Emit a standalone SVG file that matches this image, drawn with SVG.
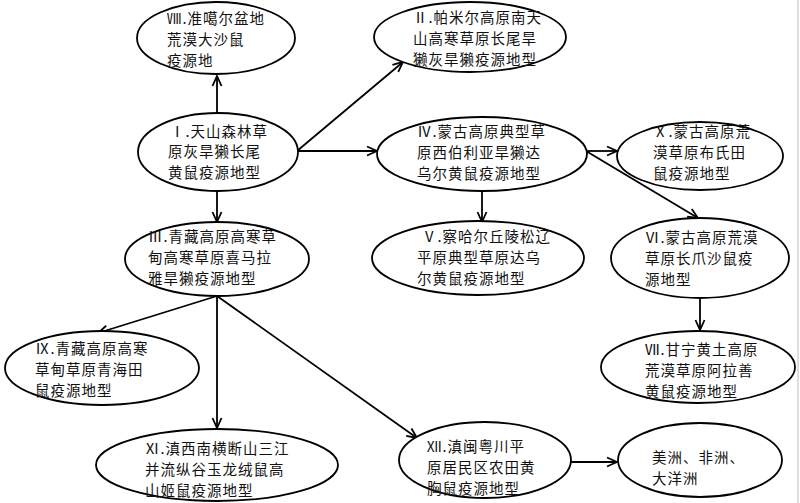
<svg xmlns="http://www.w3.org/2000/svg" width="800" height="503" viewBox="0 0 800 503">
<defs>
<marker id="arr" viewBox="0 0 12 12" refX="11" refY="6" markerWidth="12" markerHeight="12" markerUnits="userSpaceOnUse" orient="auto">
<path d="M1,1.5 L11,6 L1,10.5" fill="none" stroke="#000" stroke-width="1.8"/>
</marker>
<style>
ellipse{fill:#fff;stroke:#000;stroke-width:1.8}
text{font-family:"Noto Sans CJK SC","Noto Sans",sans-serif;font-size:14.5px;letter-spacing:1px;fill:#111}
#connectors line{stroke:#000;stroke-width:1.8;marker-end:url(#arr)}
</style>
</defs>
<rect width="800" height="503" fill="#fff"/>
<line x1="798" y1="0" x2="798" y2="503" stroke="#bbb" stroke-width="1"/>
<g id="connectors">
<line x1="217" y1="113" x2="217" y2="76"/>
<line x1="297" y1="151" x2="403" y2="62"/>
<line x1="297" y1="151" x2="377" y2="151"/>
<line x1="217" y1="191" x2="217" y2="222"/>
<line x1="586" y1="151" x2="617" y2="151"/>
<line x1="586" y1="151" x2="698" y2="218"/>
<line x1="482" y1="190" x2="482" y2="222"/>
<line x1="700" y1="298" x2="700" y2="330"/>
<line x1="217" y1="296" x2="98" y2="333"/>
<line x1="217" y1="296" x2="217" y2="428"/>
<line x1="217" y1="296" x2="417" y2="438"/>
<line x1="570" y1="462" x2="617" y2="462"/>
</g>
<g id="n8"><ellipse cx="216" cy="38" rx="79" ry="36"/>
<text x="167" y="24">Ⅷ.准噶尔盆地</text><text x="167" y="45">荒漠大沙鼠</text><text x="167" y="66">疫源地</text></g>
<g id="n2"><ellipse cx="470" cy="37" rx="96" ry="35"/>
<text x="413" y="23">Ⅱ.帕米尔高原南天</text><text x="413" y="44">山高寒草原长尾旱</text><text x="413" y="65">獭灰旱獭疫源地型</text></g>
<g id="n1"><ellipse cx="218" cy="152" rx="80" ry="39"/>
<text x="170" y="137">Ⅰ.天山森林草</text><text x="168" y="157">原灰旱獭长尾</text><text x="168" y="178">黄鼠疫源地型</text></g>
<g id="n4"><ellipse cx="482" cy="154" rx="105" ry="37"/>
<text x="417" y="137">Ⅳ.蒙古高原典型草</text><text x="417" y="158">原西伯利亚旱獭达</text><text x="417" y="179">乌尔黄鼠疫源地型</text></g>
<g id="n10"><ellipse cx="700" cy="156" rx="83" ry="34"/>
<text x="653" y="137">Ⅹ.蒙古高原荒</text><text x="653" y="158">漠草原布氏田</text><text x="653" y="179">鼠疫源地型</text></g>
<g id="n3"><ellipse cx="217" cy="259" rx="92" ry="37"/>
<text x="148" y="242">Ⅲ.青藏高原高寒草</text><text x="148" y="263">甸高寒草原喜马拉</text><text x="148" y="284">雅旱獭疫源地型</text></g>
<g id="n5"><ellipse cx="478" cy="258" rx="106" ry="37"/>
<text x="422" y="242">Ⅴ.察哈尔丘陵松辽</text><text x="417" y="263">平原典型草原达乌</text><text x="417" y="284">尔黄鼠疫源地型</text></g>
<g id="n6"><ellipse cx="700" cy="258" rx="89" ry="40"/>
<text x="645" y="243">Ⅵ.蒙古高原荒漠</text><text x="645" y="264">草原长爪沙鼠疫</text><text x="645" y="285">源地型</text></g>
<g id="n9"><ellipse cx="102" cy="368" rx="97" ry="37"/>
<text x="35" y="354">Ⅸ.青藏高原高寒</text><text x="35" y="375">草甸草原青海田</text><text x="35" y="396">鼠疫源地型</text></g>
<g id="n7"><ellipse cx="698" cy="367" rx="97" ry="36"/>
<text x="645" y="355">Ⅶ.甘宁黄土高原</text><text x="645" y="376">荒漠草原阿拉善</text><text x="645" y="397">黄鼠疫源地型</text></g>
<g id="n11"><ellipse cx="217" cy="465" rx="121" ry="36"/>
<text x="145" y="454">Ⅺ.滇西南横断山三江</text><text x="145" y="475">并流纵谷玉龙绒鼠高</text><text x="145" y="496">山姬鼠疫源地型</text></g>
<g id="n12"><ellipse cx="485" cy="460" rx="86" ry="38"/>
<text x="427" y="452">Ⅻ.滇闽粤川平</text><text x="427" y="473">原居民区农田黄</text><text x="427" y="494">胸鼠疫源地型</text></g>
<g id="n13"><ellipse cx="700" cy="460" rx="82" ry="37"/>
<text x="652" y="463">美洲、非洲、</text><text x="652" y="484">大洋洲</text></g>
</svg>
